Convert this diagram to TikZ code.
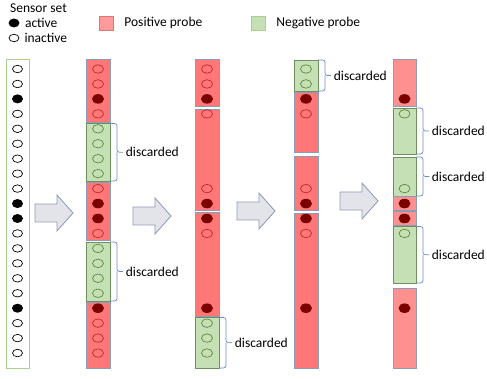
\documentclass[tikz,border=0pt]{standalone}
\usepackage{fontspec}
\setmainfont{Carlito}
\usepackage{tikz}
\usetikzlibrary{positioning, shapes.geometric}

\definecolor{posred}{HTML}{FF7777}
\definecolor{posredlight}{HTML}{FF9090}
\definecolor{negreen}{HTML}{C5E0B4}
\definecolor{boxedge}{HTML}{8C9BB8}
\definecolor{negedge}{HTML}{6E8F5E}
\definecolor{sensoredge}{HTML}{A9D18E}
\definecolor{dotred}{HTML}{7B0000}
\definecolor{ringred}{HTML}{C0282D}
\definecolor{ringgreen}{HTML}{5E8A3C}
\definecolor{bracecol}{HTML}{6A8BC6}
\definecolor{arrowgray}{HTML}{E3E4EA}
\definecolor{keypink}{HTML}{FF9B9B}
\definecolor{keypinkedge}{HTML}{D47878}

\newcommand{\sy}[1]{69+14.95*(#1-1)}

\tikzset{
  lbl/.style={font=\fontsize{13.5}{15}\selectfont, inner sep=1pt},
  posbox/.style={fill=posred, draw=boxedge, line width=0.8pt},
  poslight/.style={fill=posredlight, draw=boxedge, line width=0.8pt},
  negbox/.style={fill=negreen, draw=negedge, line width=0.8pt},
  dot/.style={ellipse, inner sep=0pt, minimum width=11pt, minimum height=8.5pt, line width=0.7pt},
  blackoff/.style={dot, draw=black, minimum width=10pt, minimum height=7.5pt},
  blackon/.style={dot, fill=black, minimum width=11pt, minimum height=9pt},
  redoff/.style={dot, draw=ringred},
  redon/.style={dot, fill=dotred, minimum width=12pt, minimum height=9.5pt},
  greenoff/.style={dot, draw=ringgreen},
  bracket/.style={draw=bracecol, line width=0.7pt, rounded corners=2.5pt},
  bigarrow/.style={fill=arrowgray, draw=boxedge, line width=0.8pt},
}

\newcommand{\discard}[4]{%
  \draw[bracket] (#1,#2) -- (#1+7,#2) -- (#1+7,{(#2+#3)/2}) -- (#1+13,{(#2+#3)/2})
    node[lbl, anchor=west, inner sep=2.5pt] (#4) {discarded};
  \draw[bracket] (#1+7,{(#2+#3)/2}) -- (#1+7,#3) -- (#1,#3);
}

\begin{document}
\begin{tikzpicture}[x=1pt, y=-1pt]
\useasboundingbox (0,0) rectangle (487,379);

% legend
\node[lbl, anchor=west] (title) at (9,8) {Sensor set};
\node[blackon] (keyon) at (14,23) {};
\node[lbl, right=4pt of keyon] (keyontext) {active};
\node[blackoff] (keyoff) at (14,38) {};
\node[lbl, right=4pt of keyoff] (keyofftext) {inactive};
\node[fill=keypink, draw=keypinkedge, minimum size=14pt, inner sep=0pt] (poskey) at (106,23) {};
\node[lbl, right=10pt of poskey] (postext) {Positive probe};
\node[fill=negreen, draw=sensoredge, minimum size=14pt, inner sep=0pt] (negkey) at (258,23) {};
\node[lbl, right=10pt of negkey] (negtext) {Negative probe};

% probe columns
\draw[draw=sensoredge, line width=0.8pt] (6,59) rectangle (29,368);
\foreach \ya/\yb/\st in {59/122.5/posbox, 123.5/181/negbox, 182.5/240.5/posbox, 242/301/negbox, 302.5/368/posbox}
  \draw[\st] (86,\ya) rectangle (110,\yb);
\foreach \ya/\yb/\st in {59/106.5/posbox, 109/210/posbox, 212.5/316/posbox, 317.5/368/negbox}
  \draw[\st] (195,\ya) rectangle (219,\yb);
\foreach \ya/\yb/\st in {60/91/negbox, 92/152.5/posbox, 156.5/210.5/posbox, 213/368/posbox}
  \draw[\st] (294,\ya) rectangle (318,\yb);
\foreach \ya/\yb/\st in {59/106.5/poslight, 108/154/negbox, 157/196/negbox, 196.5/210.5/poslight,
                         211.5/225.5/poslight, 226.5/283/negbox, 288/368/poslight}
  \draw[\st] (393,\ya) rectangle (416,\yb);

% sensors
\foreach \k/\st in {1/blackoff, 2/blackoff, 3/blackon, 4/blackoff, 5/blackoff, 6/blackoff, 7/blackoff,
                    8/blackoff, 9/blackoff, 10/blackon, 11/blackon, 12/blackoff, 13/blackoff, 14/blackoff,
                    15/blackoff, 16/blackoff, 17/blackon, 18/blackoff, 19/blackoff, 20/blackoff}
  \node[\st] (s1-\k) at (17.5,{\sy{\k}}) {};
\foreach \k/\st in {1/redoff, 2/redoff, 3/redon, 4/redoff, 5/greenoff, 6/greenoff, 7/greenoff,
                    8/greenoff, 9/redoff, 10/redon, 11/redon, 12/redoff, 13/greenoff, 14/greenoff,
                    15/greenoff, 16/greenoff, 17/redon, 18/redoff, 19/redoff, 20/redoff}
  \node[\st] (s2-\k) at (98,{\sy{\k}}) {};
\foreach \k/\st in {1/redoff, 2/redoff, 3/redon, 4/redoff, 9/redoff, 10/redon, 11/redon, 12/redoff,
                    17/redon, 18/greenoff, 19/greenoff, 20/greenoff}
  \node[\st] (s3-\k) at (207,{\sy{\k}}) {};
\foreach \k/\st in {1/greenoff, 2/greenoff, 3/redon, 4/redoff, 9/redoff, 10/redon, 11/redon,
                    12/redoff, 17/redon}
  \node[\st] (s4-\k) at (306,{\sy{\k}}) {};
\foreach \k/\st in {3/redon, 4/greenoff, 9/greenoff, 10/redon, 11/redon, 12/greenoff, 17/redon}
  \node[\st] (s5-\k) at (404.5,{\sy{\k}}) {};

% discarded probes
\discard{110}{123.5}{181}{d2a}
\discard{110}{242}{301}{d2b}
\discard{219}{317.5}{368}{d3a}
\discard{318}{60}{91}{d4a}
\discard{416}{108}{154}{d5a}
\discard{416}{157}{196}{d5b}
\discard{416}{226.5}{283}{d5c}

% steps
\foreach \ax/\ay in {35/213, 133/216, 237/211, 340/201}
  \draw[bigarrow] (\ax,\ay-9) -- ++(22,0) -- ++(0,-9) -- (\ax+38,\ay) -- (\ax+22,\ay+18)
    -- ++(0,-9) -- (\ax,\ay+9) -- cycle;
\end{tikzpicture}
\end{document}
